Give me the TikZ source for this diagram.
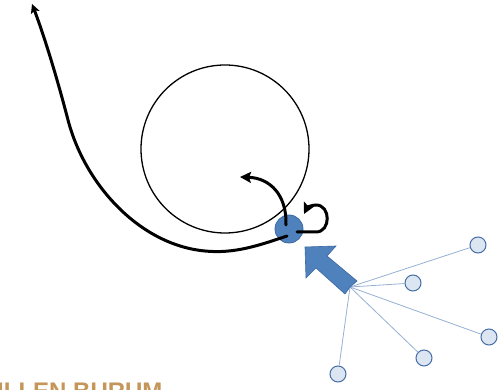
\documentclass[tikz,border=0pt]{standalone}
\usepackage{fontspec}
\setmainfont{Liberation Sans}
\usetikzlibrary{arrows.meta,calc}

\definecolor{blobblue}{RGB}{79,129,189}
\definecolor{blobedge}{RGB}{60,104,160}
\definecolor{leaffill}{RGB}{220,230,242}
\definecolor{leafedge}{RGB}{70,110,165}
\definecolor{spoke}{RGB}{150,176,212}
\definecolor{tan}{RGB}{196,150,90}

\begin{document}
\begin{tikzpicture}[x=1pt, y=-1pt,
    orbit/.style={draw, circle, line width=1.3pt, minimum size=168pt, inner sep=0pt},
    blob/.style={draw=blobedge, fill=blobblue, circle, line width=0.8pt, minimum size=28pt, inner sep=0pt},
    leaf/.style={draw=leafedge, fill=leaffill, circle, line width=1pt, minimum size=16pt, inner sep=0pt},
    spk/.style={draw=spoke, line width=0.8pt},
    path/.style={line width=3pt, line cap=round, -{Stealth[length=9pt, width=9pt, inset=2pt]}},
    turn/.style={line width=3pt, line cap=round, -{Stealth[length=11pt, width=11pt, inset=2pt]}}
]
\useasboundingbox (0,0) rectangle (499,390);

% orbit and satellite
\node[orbit] (O) at (225,149) {};
\node[blob] (B) at (289,229) {};

% leaves round the hub
\coordinate (H) at (350,287);
\node[leaf] (L1) at (478,245) {};
\node[leaf] (L2) at (413,283) {};
\node[leaf] (L3) at (489,337) {};
\node[leaf] (L4) at (424,358) {};
\node[leaf] (L5) at (338,374) {};
\foreach \l in {L1,L2,L3,L4,L5}
  \draw[spk] (H) -- (\l);

% block arrow towards the satellite
\fill[blobblue, draw=blobedge, line width=0.6pt]
  (305,247) -- (336,246) -- (327,256) -- (357,281) -- (H) -- (345,294)
  -- (316,268) -- (306,278) -- cycle;

% trajectory
\coordinate (T) at (32,4);
\draw[path] ($(B)+(-2,7)$) .. controls (260,245) and (235,254) .. (205,251)
  .. controls (140,245) and (85,185) .. (68,120)
  .. controls (55,70) and (42,30) .. (T);

% turning arrows
\coordinate (U) at (240,177);
\draw[turn] ($(B)+(-3,-4)$) .. controls (287,195) and (270,178) .. (U);
\coordinate (R) at (304,214);
\draw[turn] ($(B)+(8,3)$) -- (316,232) .. controls (331,232) and (331,205) .. (316,205)
  .. controls (311,205) and (307,208) .. (R);

% caption, cut by the lower edge
\node[anchor=base west, inner sep=0pt, text=tan, font=\fontsize{24}{28}\selectfont\bfseries] (C) at (-3,400) {ILLEN BURUM};
\end{tikzpicture}
\end{document}
